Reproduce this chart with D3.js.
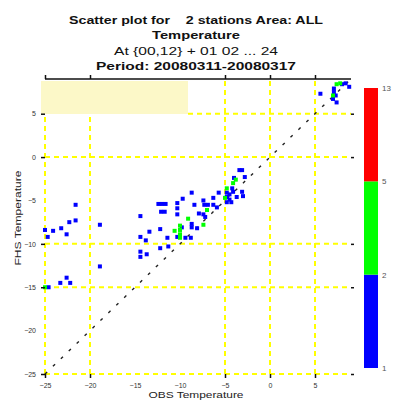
<!DOCTYPE html>
<html>
<head>
<meta charset="utf-8">
<script src="https://cdn.jsdelivr.net/npm/d3@7"></script>
<style>
  body { margin: 0; background: #fff; }
  svg { display: block; font-family: "Liberation Sans", Arial, sans-serif; }
</style>
</head>
<body>
<svg id="chart" width="393" height="400"></svg>
<script>
// Observed vs forecast temperature pairs, with number of cases per cell
const obsTemp = [
  -21.6, -21.6, -18.9, -22.3, -23.2, -24.1, -25.0, -24.7, -22.6,
  -14.4, -12.4, -12.0, -11.6, -12.1, -11.7, -10.3, -10.3, -10.3,
  -9.7, -8.7, -8.4, -7.4, -7.3, -6.9, -6.3, -5.9, -5.7,
  -7.9, -7.4, -8.7, -8.7, -12.2, -13.4, -11.4, -8.8, -14.4, -13.8,
  -12.2, -11.3, -14.4, -13.7, -14.4, -10.3, -9.4, -18.9, -22.6,
  -23.3, -22.2, -24.6, -9.8, -8.1, -7.2, -6.3,
  -4.8, -4.8, -4.8, -4.3, -4.2, -3.7, -3.0, -3.1, -4.0, -3.4, -3.1, -2.8, -4.1, -4.5, -4.5,
  5.6, 7.1, 7.1, 7.3, 7.0, 7.4, 8.4, 8.8, 8.0,
  -25.0, -10.0, -10.0, -10.0, -10.6, -10.0, -9.1, -7.4, -7.0, -5.0, -4.8, -4.1, -3.8, 7.4, 7.8, 7.0
];
const expTemp = [
  -5.5, -7.3, -7.8, -7.5, -8.2, -8.5, -8.4, -9.2, -8.9,
  -6.8, -5.4, -5.4, -5.4, -6.3, -6.3, -5.3, -5.9, -6.6,
  -4.8, -4.1, -5.5, -5.0, -5.5, -5.5, -5.5, -5.8, -4.1,
  -6.5, -6.6, -7.7, -8.1, -8.3, -8.6, -9.3, -9.3, -9.2, -9.6,
  -10.5, -10.3, -10.9, -11.2, -11.5, -9.2, -9.3, -12.6, -13.9,
  -14.5, -14.5, -15.0, -8.1, -8.2, -6.9, -4.7,
  -4.1, -4.6, -5.2, -5.2, -3.6, -4.6, -4.5, -4.0, -2.4, -1.5, -1.5, -2.3, -4.0, -4.3, -4.9,
  7.3, 7.9, 7.5, 7.1, 6.7, 6.3, 8.5, 8.1, 8.4,
  -15.0, -7.9, -8.4, -8.9, -8.5, -9.3, -7.1, -7.8, -6.1, -4.7, -3.6, -3.0, -2.6, 8.4, 8.5, 7.1
];
const caseCount = [
  1, 1, 1, 1, 1, 1, 1, 1, 1,
  1, 1, 1, 1, 1, 1, 1, 1, 1,
  1, 1, 1, 1, 1, 1, 1, 1, 1,
  1, 1, 1, 1, 1, 1, 1, 1, 1, 1,
  1, 1, 1, 1, 1, 1, 1, 1, 1,
  1, 1, 1, 1, 1, 1, 1,
  1, 1, 1, 1, 1, 1, 1, 1, 1, 1, 1, 1, 1, 1, 1,
  1, 1, 1, 1, 1, 1, 1, 1, 1,
  2, 3, 3, 2, 2, 2, 2, 2, 2, 2, 2, 2, 2, 2, 2, 2
];

const axisTicks = [-25, -20, -15, -10, -5, 0, 5];
const gridObs = [-25, -20, -5, 0, 5];
const gridExp = [-25, -15, -10, 0, 5];
const countLevels = [1, 2, 5, 13];
const countColors = ["#0000ff", "#00ff00", "#ff0000"];
const titleLines = [
  "Scatter plot for    2 stations Area: ALL",
  "Temperature",
  "At {00,12} + 01 02 ... 24",
  "Period: 20080311-20080317"
];
const titleWidths = [254, 88, 164, 200];

const svg = d3.select("#chart");

const x = d3.scaleLinear().domain([-25, 9]).range([45, 351]);
const y = d3.scaleLinear().domain([-25, 9]).range([374, 79]);

// Title block
svg.append("g").selectAll("text").data(titleLines).join("text")
  .attr("x", 196)
  .attr("y", (d, i) => 24 + i * 15.3)
  .attr("text-anchor", "middle")
  .attr("font-size", 11.5)
  .attr("font-weight", (d, i) => i === 2 ? "normal" : "bold")
  .attr("textLength", (d, i) => titleWidths[i])
  .attr("lengthAdjust", "spacingAndGlyphs")
  .style("white-space", "pre")
  .attr("fill", "#111")
  .text(d => d);

// Legend background box
svg.append("rect")
  .attr("x", 41).attr("y", 81)
  .attr("width", 147).attr("height", 33)
  .attr("fill", "#fcf8c8");

// Dashed yellow grid
const grid = svg.append("g")
  .attr("stroke", "#ffff00")
  .attr("stroke-width", 2)
  .attr("stroke-dasharray", "5,4");
grid.selectAll("line.v").data(gridObs).join("line")
  .attr("class", "v")
  .attr("x1", d => x(d)).attr("x2", d => x(d))
  .attr("y1", y(-25)).attr("y2", d => y(9) + (d <= -20 ? 35 : 0));
grid.selectAll("line.h").data(gridExp).join("line")
  .attr("class", "h")
  .attr("y1", d => y(d)).attr("y2", d => y(d))
  .attr("x1", d => d === 5 ? 188 : x(-25)).attr("x2", x(9));

// 1:1 reference line
svg.append("line")
  .attr("x1", x(-25)).attr("y1", y(-25))
  .attr("x2", x(9)).attr("y2", y(9))
  .attr("stroke", "#222")
  .attr("stroke-width", 1.4)
  .attr("stroke-dasharray", "3,8");

// Scatter cells coloured by number of cases
const color = d3.scaleThreshold().domain([2, 5]).range(countColors);
const pts = obsTemp.map((o, i) => ({ o, e: expTemp[i], n: caseCount[i] }));
svg.append("g").selectAll("rect").data(pts).join("rect")
  .attr("x", d => x(d.o) - 2)
  .attr("y", d => y(d.e) - 2)
  .attr("width", 4).attr("height", 4)
  .attr("fill", d => color(d.n));

// Frame: top line and short tick marks at grid positions
svg.append("line")
  .attr("x1", x(-25)).attr("x2", x(9))
  .attr("y1", y(9)).attr("y2", y(9))
  .attr("stroke", "#111").attr("stroke-width", 1.5);

svg.append("g").attr("transform", `translate(0,${y(9)})`)
  .call(d3.axisTop(x).tickValues(gridObs).tickSize(4).tickFormat(""))
  .call(g => g.select(".domain").remove());
svg.append("g").attr("transform", `translate(0,${y(-25)})`)
  .call(d3.axisBottom(x).tickValues(gridObs).tickSize(4).tickFormat(""))
  .call(g => g.select(".domain").remove());
svg.append("g").attr("transform", `translate(${x(-25)},0)`)
  .call(d3.axisLeft(y).tickValues(gridExp).tickSize(4).tickFormat(""))
  .call(g => g.select(".domain").remove());
svg.append("g").attr("transform", `translate(${x(9)},0)`)
  .call(d3.axisRight(y).tickValues(gridExp).tickSize(3).tickFormat(""))
  .call(g => g.select(".domain").remove());
svg.selectAll(".tick line").attr("stroke", "#111").attr("stroke-width", 1.5);

// Tick labels
svg.append("g").attr("transform", `translate(0,${y(-25) + 6})`)
  .call(d3.axisBottom(x).tickValues(axisTicks).tickSize(0))
  .call(g => g.select(".domain").remove())
  .call(g => g.selectAll("text").attr("font-size", 7).attr("fill", "#333")
    .attr("font-family", "Liberation Sans, Arial, sans-serif"));
svg.append("g").attr("transform", `translate(${x(-25) - 6},0)`)
  .call(d3.axisLeft(y).tickValues(axisTicks).tickSize(0))
  .call(g => g.select(".domain").remove())
  .call(g => g.selectAll("text").attr("font-size", 7).attr("fill", "#333")
    .attr("font-family", "Liberation Sans, Arial, sans-serif"));

// Axis titles
svg.append("text")
  .attr("x", 196).attr("y", 398)
  .attr("text-anchor", "middle")
  .attr("font-size", 9.5)
  .attr("textLength", 95)
  .attr("lengthAdjust", "spacingAndGlyphs")
  .attr("fill", "#222")
  .text("OBS Temperature");
svg.append("text")
  .attr("transform", "translate(21,218) rotate(-90)")
  .attr("text-anchor", "middle")
  .attr("font-size", 9.5)
  .attr("textLength", 95)
  .attr("lengthAdjust", "spacingAndGlyphs")
  .attr("fill", "#222")
  .text("FHS Temperature");

// Colour bar for number of cases
const cb = d3.scalePoint().domain(countLevels).range([368, 88]);
const cbar = svg.append("g");
cbar.selectAll("rect").data(countColors).join("rect")
  .attr("x", 364).attr("width", 14)
  .attr("y", (d, i) => cb(countLevels[i + 1]))
  .attr("height", (d, i) => cb(countLevels[i]) - cb(countLevels[i + 1]))
  .attr("fill", d => d);
cbar.selectAll("text").data(countLevels).join("text")
  .attr("x", 382)
  .attr("y", d => cb(d) + 3)
  .attr("font-size", 8)
  .attr("fill", "#555")
  .text(d => d);
</script>
</body>
</html>
